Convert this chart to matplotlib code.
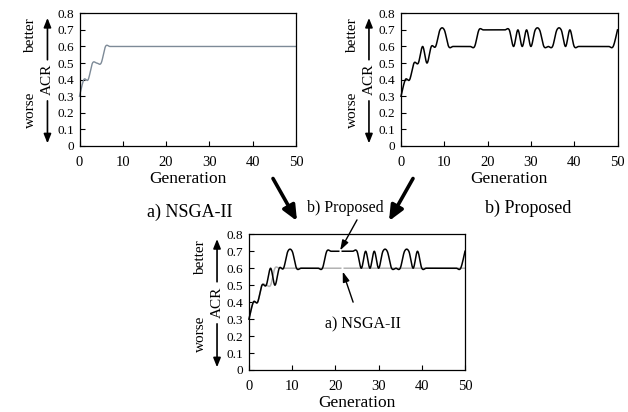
import numpy as np
import matplotlib
matplotlib.use("Agg")
import matplotlib.pyplot as plt
from matplotlib.patches import FancyArrowPatch

plt.rcParams['font.family'] = ['Liberation Serif', 'DejaVu Serif']

# ---- data ----
generations = list(range(0, 51))
proposed = [0.3, 0.4, 0.4, 0.5, 0.5, 0.6, 0.5, 0.6, 0.6, 0.7, 0.7,
            0.6, 0.6, 0.6, 0.6, 0.6, 0.6, 0.6,
            0.7, 0.7, 0.7, 0.7, 0.7, 0.7, 0.7, 0.7,
            0.6, 0.7, 0.6, 0.7, 0.6, 0.7, 0.7, 0.6, 0.6, 0.6, 0.7, 0.7, 0.6, 0.7,
            0.6, 0.6, 0.6, 0.6, 0.6, 0.6, 0.6, 0.6, 0.6, 0.6,
            0.7]
nsga2 = [0.3, 0.4, 0.4, 0.5, 0.5, 0.5] + [0.6] * 45
xticks = [0, 10, 20, 30, 40, 50]
yticks = [0, 0.1, 0.2, 0.3, 0.4, 0.5, 0.6, 0.7, 0.8]
ytick_labels = ["0", "0.1", "0.2", "0.3", "0.4", "0.5", "0.6", "0.7", "0.8"]


def catmull_rom(x, y, n=24):
    P = np.column_stack([x, y]).astype(float)
    out = []
    for i in range(len(P) - 1):
        p0 = P[i - 1] if i > 0 else P[i]
        p1, p2 = P[i], P[i + 1]
        p3 = P[i + 2] if i + 2 < len(P) else P[i + 1]
        t = np.linspace(0, 1, n, endpoint=False)[:, None]
        seg = 0.5 * ((2 * p1) + (-p0 + p2) * t +
                     (2 * p0 - 5 * p1 + 4 * p2 - p3) * t ** 2 +
                     (-p0 + 3 * p1 - 3 * p2 + p3) * t ** 3)
        out.append(seg)
    out.append(P[-1][None, :])
    S = np.vstack(out)
    return S[:, 0], S[:, 1]


W, H = 628, 412
fig = plt.figure(figsize=(W / 100, H / 100), dpi=100)


def add_axes_px(left, top, right, bottom):
    return fig.add_axes([left / W, 1 - bottom / H, (right - left) / W, (bottom - top) / H])


def style(ax):
    ax.set_xlim(0, 50)
    ax.set_ylim(0, 0.8)
    ax.set_xticks(xticks)
    ax.set_yticks(yticks)
    ax.set_yticklabels(ytick_labels)
    ax.tick_params(direction='in', length=3.5, width=0.8)
    ax.tick_params(axis='x', labelsize=10.5, pad=7)
    ax.tick_params(axis='y', labelsize=9.5, pad=4)
    for s in ax.spines.values():
        s.set_linewidth(0.9)
    ax.set_xlabel("Generation", fontsize=12.5, labelpad=1.5)
    # side labels with arrows
    tr = ax.transAxes
    ax.text(-0.225, 0.83, "better", rotation=90, ha='center', va='center',
            fontsize=11, transform=tr)
    ax.text(-0.225, 0.27, "worse", rotation=90, ha='center', va='center',
            fontsize=11, transform=tr)
    ax.text(-0.148, 0.50, "ACR", rotation=90, ha='center', va='center',
            fontsize=11, transform=tr)
    ap = dict(arrowstyle='-|>,head_length=0.55,head_width=0.22', color='black',
              lw=1.2, shrinkA=0, shrinkB=0)
    ax.annotate("", xy=(-0.148, 0.965), xytext=(-0.148, 0.65), xycoords=tr,
                textcoords=tr, arrowprops=ap, annotation_clip=False)
    ax.annotate("", xy=(-0.148, 0.02), xytext=(-0.148, 0.34), xycoords=tr,
                textcoords=tr, arrowprops=ap, annotation_clip=False)


xs_p, ys_p = catmull_rom(generations, proposed)
xs_n, ys_n = catmull_rom(generations, nsga2)

# a) NSGA-II
ax1 = add_axes_px(79.5, 13.3, 296, 146)
ax1.plot(xs_n, ys_n, color='#7d8a97', lw=1.0, clip_on=False)
style(ax1)

# b) Proposed
ax2 = add_axes_px(401, 13.3, 617.5, 146)
ax2.plot(xs_p, ys_p, color='black', lw=1.1, clip_on=False)
style(ax2)

# combined
ax3 = add_axes_px(249, 234.3, 465, 370)
ax3.plot(xs_n, ys_n, color='#b3b3b3', lw=1.1, clip_on=False)
ax3.plot(xs_p, ys_p, color='black', lw=1.1, clip_on=False)
style(ax3)

# small breaks in the lines where the labels point
ax3.plot([20.85, 21.35], [0.7, 0.7], color='white', lw=2.5, solid_capstyle='butt')
ax3.plot([21.35, 21.85], [0.6, 0.6], color='white', lw=2.5, solid_capstyle='butt')

ap_small = dict(arrowstyle='-|>,head_length=0.6,head_width=0.2', color='black',
                lw=1.0, shrinkA=0, shrinkB=0)
ax3.annotate("", xy=(21.1, 0.705), xytext=(25.0, 0.885), arrowprops=ap_small,
             annotation_clip=False)
ax3.annotate("", xy=(21.7, 0.58), xytext=(24.1, 0.40), arrowprops=ap_small,
             annotation_clip=False)
ax3.text(22.2, 0.955, "b) Proposed", fontsize=11.5, ha='center', va='center')
ax3.text(26.4, 0.27, "a) NSGA-II", fontsize=11.5, ha='center', va='center')

# captions
fig.text(190 / W, 1 - 217 / H, "a) NSGA-II", fontsize=13, ha='center', va='baseline')
fig.text(528 / W, 1 - 213 / H, "b) Proposed", fontsize=13, ha='center', va='baseline')

# big arrows
for (x0, y0), (x1, y1) in [((273, 178.5), (297, 221)), ((413, 178.5), (389, 221))]:
    arr = FancyArrowPatch((x0 / W, 1 - y0 / H), (x1 / W, 1 - y1 / H),
                          transform=fig.transFigure,
                          arrowstyle='-|>,head_length=0.9,head_width=0.4',
                          mutation_scale=10, lw=2.6, color='black',
                          shrinkA=0, shrinkB=0)
    fig.patches.append(arr)

fig.savefig("out.png", dpi=100)
